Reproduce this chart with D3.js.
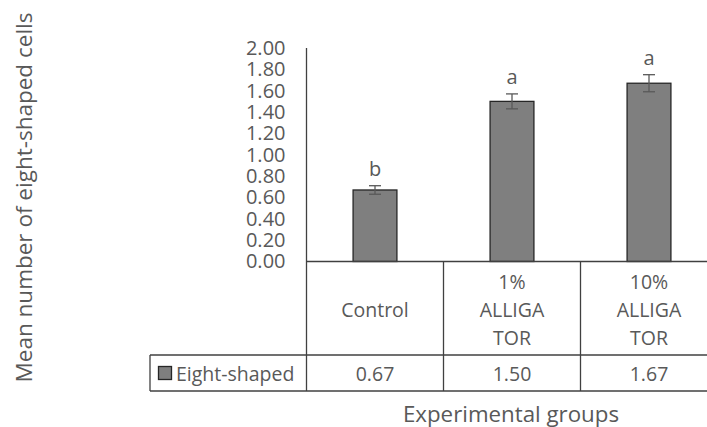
<!DOCTYPE html>
<html>
<head>
    <meta charset="utf-8">
    <title>Mean number of eight-shaped cells</title>
    <script src="https://cdn.jsdelivr.net/npm/d3@7/dist/d3.min.js"></script>
    <style>
        body {
            margin: 0;
            background: white;
        }
        text {
            font-family: "Open Sans", sans-serif;
            fill: #595959;
        }
        .grid-line {
            stroke: #404040;
            stroke-width: 1.3;
        }
    </style>
</head>
<body>
    <div id="chart"></div>

    <script>
        // Data
        const groups = ["Control", "1% ALLIGATOR", "10% ALLIGATOR"];
        const groupLines = [["Control"], ["1%", "ALLIGA", "TOR"], ["10%", "ALLIGA", "TOR"]];
        const means = [0.67, 1.50, 1.67];
        const errors = [0.04, 0.07, 0.08];
        const letters = ["b", "a", "a"];
        const valueLabels = ["0.67", "1.50", "1.67"];
        const seriesName = "Eight-shaped";
        const yTicks = [0, 0.2, 0.4, 0.6, 0.8, 1.0, 1.2, 1.4, 1.6, 1.8, 2.0];

        const width = 707, height = 427;

        // plot area
        const plotLeft = 306.5, plotRight = 717.5;
        const plotTop = 48, plotBottom = 261.5;
        // data table rows below the plot
        const catRowBottom = 355, legRowBottom = 391, legLeft = 150;

        const svg = d3.select("#chart")
            .append("svg")
            .attr("width", width)
            .attr("height", height);

        const x = d3.scaleBand()
            .domain(groups)
            .range([plotLeft, plotRight])
            .padding(0);

        const y = d3.scaleLinear()
            .domain([0, 2])
            .range([plotBottom, plotTop]);

        const barWidth = x.bandwidth() * 0.32;

        // y axis
        const yAxis = svg.append("g")
            .attr("transform", `translate(${plotLeft},0)`)
            .call(d3.axisLeft(y).tickValues(yTicks).tickFormat(d3.format(".2f"))
                .tickSize(0).tickPadding(21));
        yAxis.select(".domain").remove();
        yAxis.selectAll("text")
            .style("font-size", "20px")
            .style("font-family", "'Open Sans', sans-serif")
            .attr("fill", "#595959");

        // bars
        svg.selectAll(".bar")
            .data(groups)
            .join("rect")
            .attr("class", "bar")
            .attr("x", d => x(d) + x.bandwidth() / 2 - barWidth / 2)
            .attr("y", (d, i) => y(means[i]))
            .attr("width", barWidth)
            .attr("height", (d, i) => y(0) - y(means[i]))
            .attr("fill", "#7f7f7f")
            .attr("stroke", "#262626")
            .attr("stroke-width", 1.3);

        // error bars
        const err = svg.selectAll(".err")
            .data(groups)
            .join("g")
            .attr("class", "err")
            .attr("stroke", "#595959")
            .attr("stroke-width", 1.3);
        err.append("line")
            .attr("x1", d => x(d) + x.bandwidth() / 2)
            .attr("x2", d => x(d) + x.bandwidth() / 2)
            .attr("y1", (d, i) => y(means[i] + errors[i]))
            .attr("y2", (d, i) => y(means[i] - errors[i]));
        [1, -1].forEach(s => {
            err.append("line")
                .attr("x1", d => x(d) + x.bandwidth() / 2 - 6)
                .attr("x2", d => x(d) + x.bandwidth() / 2 + 6)
                .attr("y1", (d, i) => y(means[i] + s * errors[i]))
                .attr("y2", (d, i) => y(means[i] + s * errors[i]));
        });

        // significance letters
        svg.selectAll(".letter")
            .data(groups)
            .join("text")
            .attr("class", "letter")
            .attr("x", d => x(d) + x.bandwidth() / 2)
            .attr("y", (d, i) => y(means[i] + errors[i]) - 10)
            .attr("text-anchor", "middle")
            .style("font-size", "20px")
            .text((d, i) => letters[i]);

        // data table lines
        const lines = [
            [plotLeft, plotBottom, plotRight, plotBottom],
            [legLeft, catRowBottom, plotRight, catRowBottom],
            [legLeft, legRowBottom, plotRight, legRowBottom],
            [legLeft, catRowBottom, legLeft, legRowBottom],
            [plotLeft, plotTop, plotLeft, legRowBottom]
        ];
        groups.forEach(g => {
            const xe = x(g) + x.bandwidth();
            lines.push([xe, plotBottom, xe, legRowBottom]);
        });
        svg.selectAll(".grid-line")
            .data(lines)
            .join("line")
            .attr("class", "grid-line")
            .attr("x1", d => d[0]).attr("y1", d => d[1])
            .attr("x2", d => d[2]).attr("y2", d => d[3]);

        // category labels in the table
        const lineHeight = 27.8;
        const catMid = (plotBottom + catRowBottom) / 2 + 1;
        groups.forEach((g, i) => {
            const rows = groupLines[i];
            rows.forEach((t, j) => {
                svg.append("text")
                    .attr("x", x(g) + x.bandwidth() / 2)
                    .attr("y", catMid + (j - (rows.length - 1) / 2) * lineHeight)
                    .attr("text-anchor", "middle")
                    .attr("dominant-baseline", "central")
                    .style("font-size", "19.5px")
                    .text(t);
            });
        });

        // values row
        const valMid = (catRowBottom + legRowBottom) / 2;
        svg.selectAll(".val")
            .data(groups)
            .join("text")
            .attr("class", "val")
            .attr("x", d => x(d) + x.bandwidth() / 2)
            .attr("y", valMid)
            .attr("text-anchor", "middle")
            .attr("dominant-baseline", "central")
            .style("font-size", "19.5px")
            .text((d, i) => valueLabels[i]);

        // legend key
        svg.append("rect")
            .attr("x", 158.5)
            .attr("y", valMid - 6.5)
            .attr("width", 13)
            .attr("height", 13)
            .attr("fill", "#7f7f7f")
            .attr("stroke", "#262626")
            .attr("stroke-width", 1.3);
        svg.append("text")
            .attr("x", 176)
            .attr("y", valMid)
            .attr("dominant-baseline", "central")
            .style("font-size", "19.5px")
            .text(seriesName);

        // axis titles
        svg.append("text")
            .attr("x", 511)
            .attr("y", 413)
            .attr("text-anchor", "middle")
            .attr("dominant-baseline", "central")
            .style("font-size", "22.3px")
            .text("Experimental groups");

        svg.append("text")
            .attr("transform", "translate(23,197.5) rotate(-90)")
            .attr("text-anchor", "middle")
            .attr("dominant-baseline", "central")
            .style("font-size", "22.5px")
            .text("Mean number of eight-shaped cells");
    </script>
</body>
</html>
